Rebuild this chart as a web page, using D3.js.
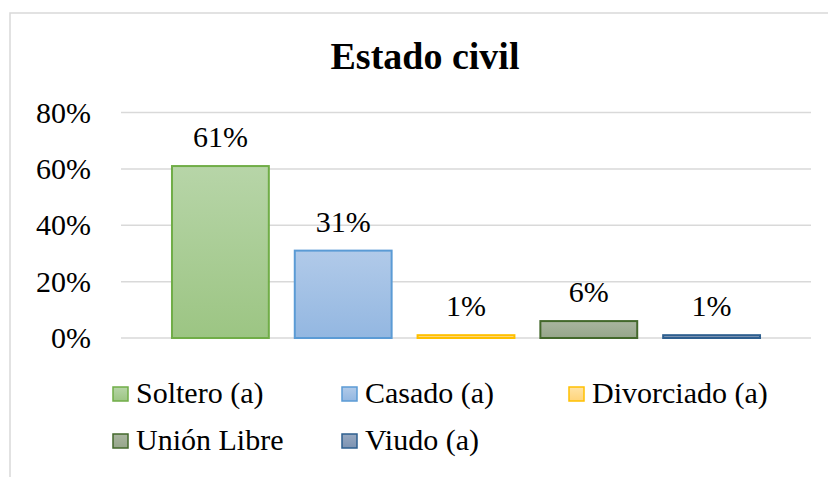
<!DOCTYPE html>
<html>
<head>
<meta charset="utf-8">
<script src="https://cdn.jsdelivr.net/npm/d3@7"></script>
</head>
<body style="margin:0">
<script>
// data
let categories = ['Soltero (a)', 'Casado (a)', 'Divorciado (a)', 'Unión Libre', 'Viudo (a)'];
let values = [0.61, 0.31, 0.01, 0.06, 0.01];
let valueLabels = ['61%', '31%', '1%', '6%', '1%'];
let yTicks = [0, 0.2, 0.4, 0.6, 0.8];
let tickLabels = ['0%', '20%', '40%', '60%', '80%'];

// colours: [gradient top, gradient bottom, stroke]
let fills = [
  ['#b7d5a8', '#9cc583', '#70ad47'],
  ['#b1cae9', '#93b7e1', '#5b9bd5'],
  ['#ffe3a6', '#ffd47a', '#ffc000'],
  ['#a9b59f', '#96a68a', '#43682b'],
  ['#97a8c1', '#7d93b2', '#2e5f8f']
];

let serif = "'Liberation Serif', Tinos, 'Nimbus Roman', FreeSerif, 'Times New Roman', Times, serif";
let w = 828;
let h = 477;

let svg = d3.select('body').append('svg').attr('width', w).attr('height', h);

//scales
let x = d3.scaleBand().domain(categories).range([121, 811]).paddingInner(0.195).paddingOuter(0.407);
let y = d3.scaleLinear().domain([0, 0.8]).range([338, 112.5]);
let legendPos = [[112, 403], [341, 403], [568, 403], [112, 450], [341, 450]];

//gradients
let defs = svg.append('defs');
fills.forEach(function(f, i) {
  let g = defs.append('linearGradient').attr('id', 'grad' + i)
    .attr('x1', 0).attr('y1', 0).attr('x2', 0).attr('y2', 1);
  g.append('stop').attr('offset', '0%').attr('stop-color', f[0]);
  g.append('stop').attr('offset', '100%').attr('stop-color', f[1]);
});

//chart border (runs off the right and bottom)
svg.append('rect').attr('x', 10).attr('y', 13).attr('width', 900).attr('height', 600)
  .attr('fill', 'none').attr('stroke', '#d9d9d9').attr('stroke-width', 1.5);

//gridlines
svg.append('g').selectAll('line').data(yTicks).join('line')
  .attr('x1', 121).attr('x2', 811)
  .attr('y1', d => y(d)).attr('y2', d => y(d))
  .attr('stroke', '#d9d9d9').attr('stroke-width', 1.5);

//bars
svg.append('g').selectAll('rect').data(values).join('rect')
  .attr('x', (d, i) => x(categories[i]) + 1)
  .attr('width', x.bandwidth() - 2)
  .attr('y', d => y(d))
  .attr('height', d => y(0) - y(d))
  .attr('fill', (d, i) => 'url(#grad' + i + ')')
  .attr('stroke', (d, i) => fills[i][2])
  .attr('stroke-width', 2);

//legend swatches
svg.append('g').selectAll('rect').data(categories).join('rect')
  .attr('x', (d, i) => legendPos[i][0] + 1).attr('y', (d, i) => legendPos[i][1] - 16)
  .attr('width', 15).attr('height', 14)
  .attr('fill', (d, i) => 'url(#grad' + i + ')')
  .attr('stroke', (d, i) => fills[i][2]).attr('stroke-width', 1.5);

//title
svg.append('text').attr('x', 425).attr('y', 69).attr('text-anchor', 'middle')
  .attr('font-family', serif).style('font-family', serif)
  .style('font-size', '38px').style('font-weight', 'bold')
  .text('Estado civil');

//y tick labels
svg.append('g').selectAll('text').data(yTicks).join('text')
  .attr('x', 91).attr('y', d => y(d) + 10).attr('text-anchor', 'end')
  .attr('font-family', serif).style('font-family', serif).style('font-size', '30px')
  .text((d, i) => tickLabels[i]);

//value labels
svg.append('g').selectAll('text').data(values).join('text')
  .attr('x', (d, i) => x(categories[i]) + x.bandwidth() / 2)
  .attr('y', d => y(d) - 19).attr('text-anchor', 'middle')
  .attr('font-family', serif).style('font-family', serif).style('font-size', '30px')
  .text((d, i) => valueLabels[i]);

//legend labels
svg.append('g').selectAll('text').data(categories).join('text')
  .attr('x', (d, i) => legendPos[i][0] + 24).attr('y', (d, i) => legendPos[i][1])
  .attr('font-family', serif).style('font-family', serif).style('font-size', '30px')
  .text(d => d);
</script>
</body>
</html>
